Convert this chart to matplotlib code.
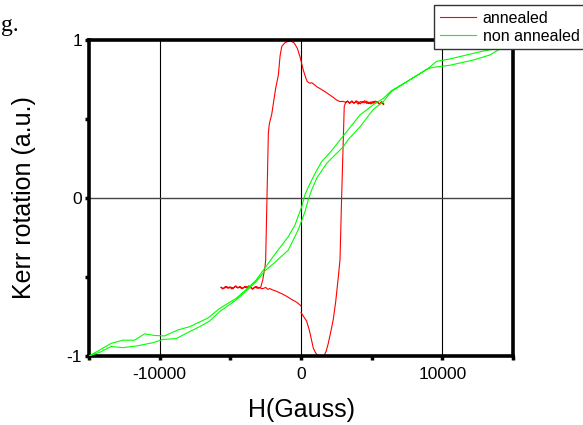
import numpy as np
import matplotlib.pyplot as plt

plt.rcParams['font.family'] = ['Liberation Sans', 'DejaVu Sans']

# annealed sample: field swept up, then back down (H in Gauss, Kerr in a.u.)
ann_up_H = [-5650, -5500, -5350, -5200, -5050, -4900, -4750, -4600, -4450, -4300,
            -4150, -4000, -3850, -3700, -3550, -3400, -3250, -3100, -2950, -2800,
            -2650, -2500, -2350, -2200, -2070, -1800, -1500, -1270, -1000, -700,
            -300, -100, 0, np.nan, 0, 150, 400, 600, 870, 1000, 1150, 1300, 1450,
            1620, 1780, 1930, 2100, 2280, 2450, 2640, 2760, 2870, 2990, 3060, 3150,
            3300, 3450, 3600, 3750, 3900, 4050, 4200, 4350, 4500, 4650, 4800, 4950,
            5100, 5250, 5400, 5550, 5700, 5850]
ann_up_K = [-0.565, -0.574, -0.560, -0.571, -0.562, -0.576, -0.566, -0.557, -0.569, -0.561,
            -0.573, -0.563, -0.570, -0.556, -0.567, -0.575, -0.562, -0.571, -0.565, -0.574,
            -0.572, -0.566, -0.578, -0.573, -0.580, -0.588, -0.600, -0.610, -0.623, -0.640,
            -0.660, -0.675, -0.684, np.nan, -0.725, -0.745, -0.780, -0.840, -0.950, -0.975,
            -0.994, -1.000, -1.000, -1.000, -0.970, -0.920, -0.850, -0.770, -0.660, -0.500,
            -0.390, -0.010, 0.370, 0.580, 0.603, 0.612, 0.598, 0.615, 0.601, 0.609,
            0.594, 0.611, 0.603, 0.616, 0.598, 0.607, 0.595, 0.612, 0.600, 0.608,
            0.592, 0.603, 0.590]

ann_dn_H = [5850, 5700, 5550, 5400, 5250, 5100, 4950, 4800, 4650, 4500, 4350, 4200,
            4050, 3900, 3750, 3600, 3450, 3300, 3150, 2960, 2760, 2520, 2280, 1700,
            1110, 760, 640, 450, 350, 160, -70, -260, -470, -730, -960, -1130, -1360,
            -1480, -1600, -1800, -2070, -2240, -2310, -2500, -2540, -2710, -2850,
            -3000, -3150, -3300, -3450, -3600, -3750, -3900, -4050, -4200, -4350,
            -4500, -4650, -4800, -4950, -5100, -5250, -5400, -5550, -5650]
ann_dn_K = [0.598, 0.610, 0.596, 0.606, 0.614, 0.599, 0.609, 0.597, 0.613, 0.602, 0.610, 0.596,
            0.608, 0.615, 0.600, 0.611, 0.603, 0.614, 0.606, 0.612, 0.610, 0.620, 0.637, 0.673,
            0.705, 0.730, 0.726, 0.736, 0.757, 0.810, 0.894, 0.947, 0.980, 0.994, 0.990, 0.983, 0.960,
            0.900, 0.780, 0.690, 0.530, 0.470, 0.410, -0.390, -0.430, -0.520, -0.565,
            -0.571, -0.560, -0.568, -0.577, -0.563, -0.570, -0.559, -0.567, -0.574, -0.562,
            -0.569, -0.558, -0.572, -0.564, -0.570, -0.561, -0.568, -0.575, -0.566]

# non annealed sample
non_up_H = [-15000, -14200, -13430, -12600, -11660, -10480, -9770, -8830, -8130, -7190,
            -6480, -5770, -4590, -3890, -3180, -2540, -1880, -900, -190, 280, 520, 750,
            1110, 1820, 3000, 3340, 4170, 5110, 5820, 6410, 7470, 9000, 9590, 10530,
            12180, 13360, 14770, 15000]
non_up_K = [-1.000, -0.975, -0.940, -0.947, -0.937, -0.916, -0.895, -0.890, -0.857, -0.815,
            -0.780, -0.720, -0.645, -0.590, -0.530, -0.460, -0.410, -0.330, -0.200, -0.087,
            -0.010, 0.050, 0.125, 0.220, 0.325, 0.370, 0.450, 0.560, 0.610, 0.675, 0.735,
            0.820, 0.830, 0.840, 0.873, 0.905, 0.980, 1.000]

non_dn_H = [15000, 14770, 13830, 12650, 10530, 9590, 9000, 7470, 6410, 5820, 5110, 4170,
            2870, 2170, 1460, 990, 520, 280, 50, -420, -900, -1880, -3180, -3890, -4590,
            -5770, -6590, -7890, -8710, -9660, -10370, -11070, -11780, -12600, -13430,
            -14200, -15000]
non_dn_K = [1.000, 0.980, 0.947, 0.925, 0.880, 0.865, 0.820, 0.735, 0.680, 0.630, 0.590, 0.525,
            0.380, 0.300, 0.230, 0.155, 0.070, 0.020, -0.055, -0.170, -0.245, -0.360, -0.520,
            -0.580, -0.635, -0.700, -0.760, -0.815, -0.835, -0.873, -0.870, -0.860, -0.900,
            -0.900, -0.920, -0.960, -1.000]

x_ticks = [-15000, -10000, -5000, 0, 5000, 10000, 15000]
x_labels = ['', '-10000', '', '0', '', '10000', '']
y_ticks = [-1, -0.5, 0, 0.5, 1]
y_labels = ['-1', '', '0', '', '1']
grid_x = [-10000, 0, 10000]
grid_y = [0]

W, H = 583, 425
fig = plt.figure(figsize=(W / 100, H / 100), dpi=100)
ax = fig.add_axes([89 / W, 69 / H, 424 / W, 316 / H])

for gx in grid_x:
    ax.axvline(gx, color='black', lw=0.8, zorder=1)
for gy in grid_y:
    ax.axhline(gy, color='#444444', lw=1.0, zorder=1)

ax.plot(ann_up_H + ann_dn_H, ann_up_K + ann_dn_K, color='#ff0000', lw=0.8,
        label='annealed', zorder=2)
ax.plot(non_up_H + non_dn_H, non_up_K + non_dn_K, color='#00ff00', lw=0.8,
        label='non annealed', zorder=3)

ax.set_xlim(-15000, 15000)
ax.set_ylim(-1, 1)
ax.set_xticks(x_ticks)
ax.set_xticklabels(x_labels)
ax.set_yticks(y_ticks)
ax.set_yticklabels(y_labels)
ax.tick_params(direction='out', length=3, width=2.5, labelsize=12.5, colors='black')
ax.tick_params(axis='x', pad=5)
ax.tick_params(axis='y', pad=2)
for s in ax.spines.values():
    s.set_linewidth(2.6)

fig.text(301 / W, 1 - 410 / H, 'H(Gauss)', fontsize=18, ha='center', va='center')
fig.text(24 / W, 1 - 198 / H, 'Kerr rotation (a.u.)', fontsize=18, rotation=90,
         ha='center', va='center')
# fragment of the page caption that the crop cuts
fig.text(1 / W, 1 - 26 / H, 'g.', fontsize=17, family='Liberation Serif', va='center')

leg = fig.legend(loc='upper left', bbox_to_anchor=(434 / W, 1 - 5 / H), fontsize=11.5,
                 frameon=True, fancybox=False, borderaxespad=0, borderpad=0.35,
                 handlelength=2.3, handletextpad=0.4, labelspacing=0.2)
leg.get_frame().set_edgecolor('#333333')
leg.get_frame().set_linewidth(1.0)
leg.get_frame().set_alpha(1)

fig.savefig('out.png', dpi=100)
